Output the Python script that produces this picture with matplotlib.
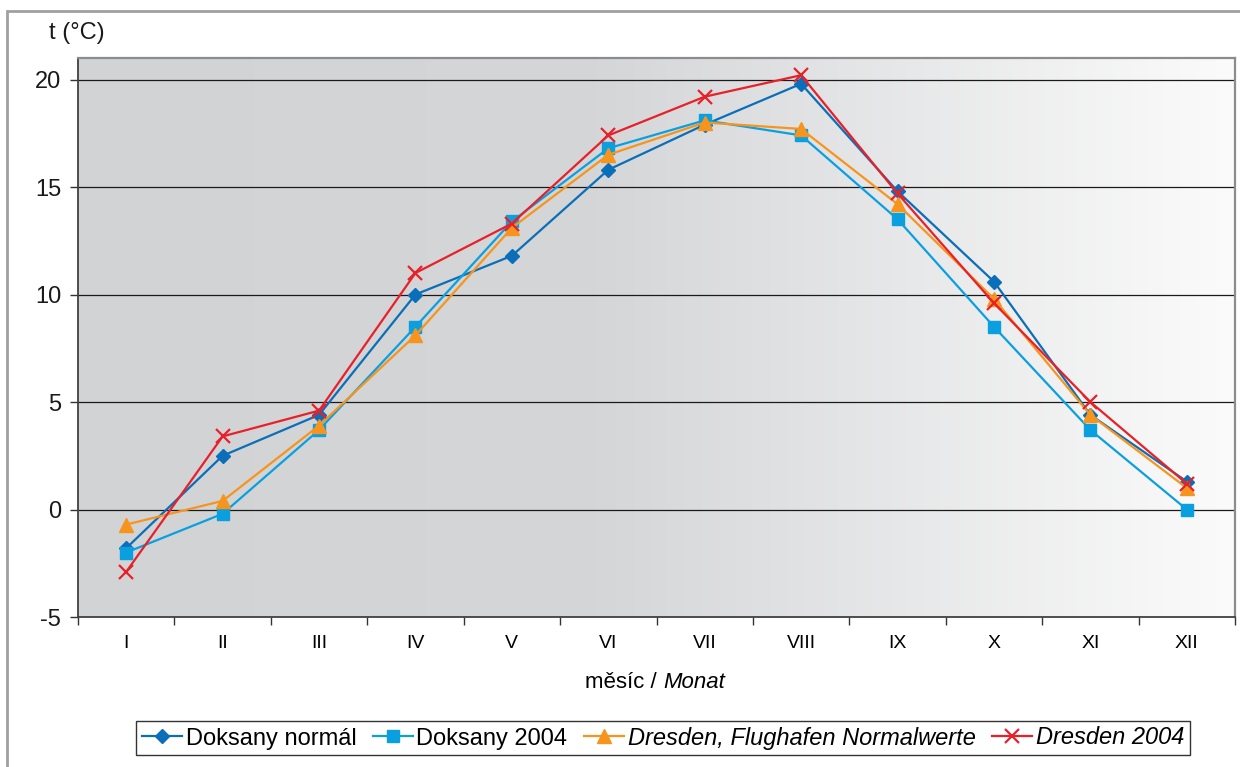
import numpy as np
import matplotlib
matplotlib.use("Agg")
import matplotlib.pyplot as plt
from matplotlib.patches import Rectangle
from matplotlib.colors import LinearSegmentedColormap

plt.rcParams['font.family'] = ['Liberation Sans', 'DejaVu Sans']

months = ["I", "II", "III", "IV", "V", "VI", "VII", "VIII", "IX", "X", "XI", "XII"]
doksany_normal = [-1.8, 2.5, 4.4, 10.0, 11.8, 15.8, 17.9, 19.8, 14.8, 10.6, 4.4, 1.3]
doksany_2004 = [-2.0, -0.2, 3.7, 8.5, 13.4, 16.8, 18.1, 17.4, 13.5, 8.5, 3.7, 0.0]
dresden_normal = [-0.7, 0.4, 3.9, 8.1, 13.1, 16.5, 18.0, 17.7, 14.2, 9.8, 4.4, 1.0]
dresden_2004 = [-2.9, 3.4, 4.6, 11.0, 13.3, 17.4, 19.2, 20.2, 14.7, 9.6, 5.0, 1.2]
y_ticks = [-5, 0, 5, 10, 15, 20]

W, H = 1240, 767
fig = plt.figure(figsize=(W / 100, H / 100), dpi=100)
fig.patch.set_facecolor("white")

# outer frame
fig.add_artist(Rectangle((7 / W, -0.1), 1.2, 1 - 11 / H + 0.1, transform=fig.transFigure,
                         fill=False, edgecolor="#a0a0a0", linewidth=2))

ax = fig.add_axes([78 / W, 1 - 617 / H, (1235 - 78) / W, (617 - 58) / H])
x = np.arange(len(months))
ax.set_xlim(-0.5, len(months) - 0.5)
ax.set_ylim(-5, 21)

# gradient background
cmap = LinearSegmentedColormap.from_list("bg", [(0, "#d2d3d5"), (0.45, "#d5d6d8"), (1.0, "#fbfbfb")])
grad = np.linspace(0, 1, 512).reshape(1, -1)
ax.imshow(grad, extent=[-0.5, len(months) - 0.5, -5, 21], aspect="auto", cmap=cmap, zorder=0)

for yv in y_ticks[1:]:
    ax.axhline(yv, color="#1a1a1a", linewidth=0.9, zorder=1)

ax.plot(x, doksany_normal, color="#0a6eb8", marker="D", markersize=7, linewidth=1.6,
        label="Doksany normál", zorder=3)
ax.plot(x, doksany_2004, color="#0aa0e0", marker="s", markersize=9, linewidth=1.6,
        label="Doksany 2004", zorder=3)
ax.plot(x, dresden_normal, color="#f7941d", marker="^", markersize=10, linewidth=1.6,
        label="Dresden, Flughafen Normalwerte", zorder=3)
ax.plot(x, dresden_2004, color="#e8202a", marker="x", markersize=10, markeredgewidth=1.6,
        linewidth=1.6, label="Dresden 2004", zorder=4)

ax.set_yticks(y_ticks)
ax.set_yticklabels([str(v) for v in y_ticks], fontsize=17, color="#1a1a1a")
ax.tick_params(axis="y", length=6, width=1, color="#333333", pad=6)

ax.set_xticks(x)
ax.set_xticklabels(months, fontsize=14)
ax.tick_params(axis="x", length=0, pad=13)
ax.set_xticks(np.arange(-0.5, len(months), 1.0), minor=True)
ax.tick_params(axis="x", which="minor", length=6, width=1, color="#333333")

for s in ["left", "bottom"]:
    ax.spines[s].set_color("#404040")
    ax.spines[s].set_linewidth(1.3)
for s in ["top", "right"]:
    ax.spines[s].set_color("#8c8c8c")
    ax.spines[s].set_linewidth(1.6)

fig.text(49 / W, 1 - 33 / H, "t (°C)", fontsize=17, va="center", ha="left", color="#1a1a1a")
fig.text(663 / W, 1 - 683 / H, "měsíc / ", fontsize=16, va="center", ha="right")
fig.text(663 / W, 1 - 683 / H, "Monat", fontsize=16, va="center", ha="left", style="italic")

leg = ax.legend(loc="center", bbox_to_anchor=(663 / W, 1 - 738 / H), bbox_transform=fig.transFigure,
                ncol=4, frameon=True, fancybox=False, prop={'size': 17},
                handlelength=1.7, handletextpad=0.15, columnspacing=0.7, borderpad=0.25)
leg.get_frame().set_edgecolor("black")
leg.get_frame().set_linewidth(1.0)
for i, t in enumerate(leg.get_texts()):
    if i >= 2:
        t.set_style("italic")

fig.savefig("out.png", dpi=100)
